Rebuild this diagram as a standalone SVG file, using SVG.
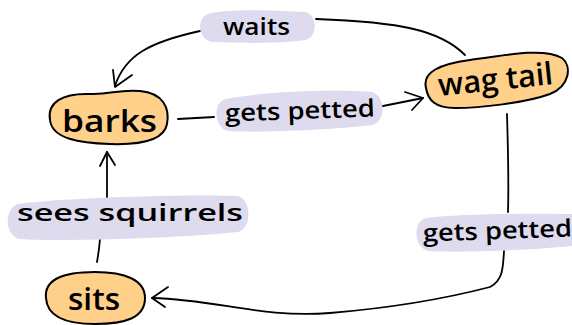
<svg xmlns="http://www.w3.org/2000/svg" width="572" height="325" viewBox="0 0 572 325">
<style>
.node{fill:#ffd08a;stroke:#000;stroke-width:2;stroke-linejoin:round}
.lbg{fill:#dedbee;stroke:none}
.edge{fill:none;stroke:#000;stroke-width:1.8;stroke-linecap:round;stroke-linejoin:round}
.t{font-family:"Open Sans","Liberation Sans",sans-serif;fill:#000;font-weight:600}
.nt{font-size:31px}
.lt{font-size:24px}
</style>
<rect width="572" height="325" fill="#fff"/>
<g id="connectors">
  <path class="edge" d="M465,55 C440,30 400,22 316,19"/>
  <path class="edge" d="M200,31 C150,42 125,55 115,86"/>
  <path class="edge" d="M113,70 L115,87 L132,75"/>
  <path class="edge" d="M178,119 L214,117"/>
  <path class="edge" d="M378,107 L423,98"/>
  <path class="edge" d="M405,92 L423,98 L412,110"/>
  <path class="edge" d="M507,114 C508,150 509,180 508,212"/>
  <path class="edge" d="M504,251 C503,268 503,280 490,287 C440,300 390,308 330,313 C260,318 220,300 152,298"/>
  <path class="edge" d="M168,287 L152,298 L165,307"/>
  <path class="edge" d="M97,262 C99,250 100,243 100,236"/>
  <path class="edge" d="M107,198 L107,152"/>
  <path class="edge" d="M100,166 L107,152 L115,165"/>
</g>
<g id="label-waits">
  <path class="lbg" d="M208,14 C230,8 280,11 305,12 C318,14 318,38 305,40 C280,44 230,43 212,42 C198,40 196,18 208,14 Z"/>
  <text class="t lt" x="223" y="35" textLength="67" lengthAdjust="spacingAndGlyphs">waits</text>
</g>
<g id="label-petted-top">
  <path class="lbg" d="M226,99 C260,92 330,89 372,92 C386,96 386,122 372,125 C330,130 260,133 228,131 C214,128 212,102 226,99 Z"/>
  <text class="t lt" x="225" y="119" textLength="150" lengthAdjust="spacingAndGlyphs" transform="rotate(-2 300 112)">gets petted</text>
</g>
<g id="label-squirrels">
  <path class="lbg" d="M18,204 C60,198 180,194 238,196 C252,200 252,228 238,232 C180,238 60,242 20,239 C4,236 4,208 18,204 Z"/>
  <text class="t lt" x="17" y="221" font-size="26" textLength="226" lengthAdjust="spacingAndGlyphs">sees squirrels</text>
</g>
<g id="label-petted-right">
  <path class="lbg" d="M426,218 C460,214 530,213 572,214 L572,246 C530,250 460,253 428,251 C414,248 412,222 426,218 Z"/>
  <text class="t lt" x="423" y="239" textLength="149" lengthAdjust="spacingAndGlyphs" transform="rotate(-2 497 234)">gets petted</text>
</g>
<g id="node-barks">
  <path class="node" d="M50,120 C47,102 63,93 90,94 C110,95 118,89 140,91 C163,93 170,108 167,124 C164,141 140,145 110,144 C80,143 52,139 50,120 Z"/>
  <text class="t nt" x="62" y="132" textLength="95" lengthAdjust="spacingAndGlyphs">barks</text>
</g>
<g id="node-wagtail">
  <path class="node" d="M426,88 C422,72 440,64 470,60 C510,54 545,48 562,58 C572,66 570,86 550,94 C525,103 480,108 455,108 C435,108 428,100 426,88 Z"/>
  <text class="t nt" x="438" y="90" textLength="115" lengthAdjust="spacingAndGlyphs" transform="rotate(-6 496 80)">wag tail</text>
</g>
<g id="node-sits">
  <path class="node" d="M46,298 C44,280 62,272 95,272 C125,272 145,280 145,298 C145,318 125,324 95,324 C65,324 47,316 46,298 Z"/>
  <text class="t nt" x="68" y="310" textLength="52" lengthAdjust="spacingAndGlyphs">sits</text>
</g>
</svg>
